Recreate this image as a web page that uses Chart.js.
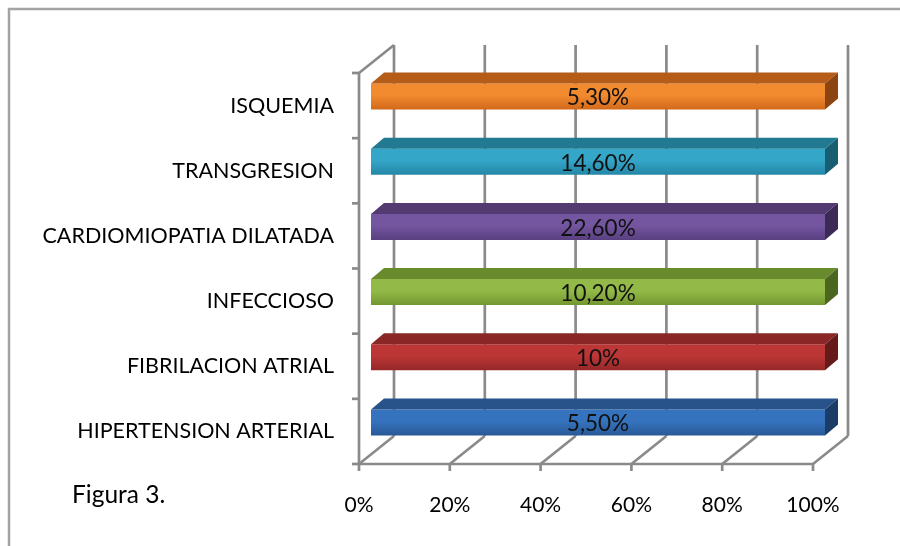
<!DOCTYPE html>
<html>
<head>
<meta charset="utf-8">
<script src="https://cdn.jsdelivr.net/npm/chart.js@4.4.1/dist/chart.umd.min.js"></script>
<style>
  html, body { margin: 0; padding: 0; background: #fff; }
  #wrap { width: 900px; height: 546px; position: relative; }
</style>
</head>
<body>
<div id="wrap"><canvas id="grafico" width="900" height="546"></canvas></div>
<script>
// Causas (de arriba hacia abajo) y su porcentaje
const causas = [
  'ISQUEMIA',
  'TRANSGRESION',
  'CARDIOMIOPATIA DILATADA',
  'INFECCIOSO',
  'FIBRILACION ATRIAL',
  'HIPERTENSION ARTERIAL'
];
const porcentajes = [5.3, 14.6, 22.6, 10.2, 10, 5.5];
const marcasX = [0, 20, 40, 60, 80, 100];
const pieFigura = 'Figura 3.';

// Colores por causa: frente (claro, oscuro), cara superior, cara lateral
const colores = [
  ['#F28A30', '#D2691A', '#B45C18', '#8E4410'],
  ['#34A6C8', '#2586A6', '#217A92', '#185E72'],
  ['#7455A0', '#594080', '#533B72', '#3C2A56'],
  ['#93BA48', '#72962F', '#6A8A2E', '#4C6620'],
  ['#BC3636', '#952727', '#8A2626', '#661B1B'],
  ['#3673BE', '#285996', '#27528A', '#1C3C68']
];

// Barras 100% apiladas: cada valor como parte del total de su categoría
const seriesApiladas = [porcentajes];
const totalesCategoria = causas.map((_, i) =>
  seriesApiladas.reduce((s, serie) => s + serie[i], 0));
const partes = porcentajes.map((v, i) => v / totalesCategoria[i] * 100);

// Formato con coma decimal: 10 -> "10%", 5.3 -> "5,30%"
const formatoPct = v => (Number.isInteger(v) ? String(v) : v.toFixed(2).replace('.', ',')) + '%';

const FUENTE = 'Lato, "Open Sans", sans-serif';
const GRIS = '#8a8a8a';
const FONDO = { dx: 35, dy: -28 };      // profundidad de paredes y suelo
const DESPLAZ = { dx: 12, dy: -9 };     // posición de las barras dentro de la profundidad
const PROF_BARRA = { dx: 13, dy: -11 }; // grosor 3D de cada barra
const GROSOR_BARRA = 0.4;

function linea(ctx, x1, y1, x2, y2) {
  ctx.beginPath(); ctx.moveTo(x1, y1); ctx.lineTo(x2, y2); ctx.stroke();
}
function poligono(ctx, pts, color) {
  ctx.beginPath();
  ctx.moveTo(pts[0][0], pts[0][1]);
  for (let k = 1; k < pts.length; k++) ctx.lineTo(pts[k][0], pts[k][1]);
  ctx.closePath();
  ctx.fillStyle = color;
  ctx.fill();
}

const efecto3D = {
  id: 'efecto3D',
  beforeDraw(chart) {
    const ctx = chart.ctx;
    ctx.save();
    ctx.strokeStyle = '#a3a3a3';
    ctx.lineWidth = 2.5;
    linea(ctx, 8, 9, 900, 9);
    linea(ctx, 9, 8, 9, 546);
    ctx.fillStyle = '#000';
    ctx.font = '24.5px ' + FUENTE;
    ctx.textAlign = 'left';
    ctx.textBaseline = 'middle';
    ctx.fillText(pieFigura, 72, 495);
    ctx.restore();
  },
  beforeDatasetsDraw(chart) {
    const { ctx, chartArea: a, scales: { x } } = chart;
    const xs = marcasX.map(v => x.getPixelForValue(v));
    const arribaFondo = a.top + FONDO.dy;
    const abajoFondo = a.bottom + FONDO.dy;
    ctx.save();
    ctx.strokeStyle = GRIS;
    ctx.lineWidth = 2.7;
    ctx.lineCap = 'butt';
    // pared del fondo y suelo
    xs.forEach(px => {
      linea(ctx, px + FONDO.dx, arribaFondo, px + FONDO.dx, abajoFondo);
      linea(ctx, px, a.bottom, px + FONDO.dx, abajoFondo);
      linea(ctx, px, a.bottom, px, a.bottom + 7);
    });
    // pared lateral
    linea(ctx, a.left, a.top, a.left, a.bottom);
    linea(ctx, a.left, a.top, a.left + FONDO.dx, arribaFondo);
    // borde frontal del suelo
    linea(ctx, a.left, a.bottom, a.right, a.bottom);
    // marcas del eje de categorías
    const n = causas.length;
    for (let i = 0; i <= n; i++) {
      const yb = a.top + i * a.height / n;
      linea(ctx, a.left - 7, yb, a.left, yb);
    }
    ctx.restore();
  },
  beforeDatasetDraw(chart) {
    chart.ctx.save();
    chart.ctx.translate(DESPLAZ.dx, DESPLAZ.dy);
  },
  afterDatasetDraw(chart, args) {
    const ctx = chart.ctx;
    args.meta.data.forEach((barra, i) => {
      const { x: x1, y: yc, base: x0, height: h } = barra.getProps(['x', 'y', 'base', 'height'], true);
      const yt = yc - h / 2, yb = yc + h / 2;
      const c = colores[i];
      poligono(ctx, [[x0, yt], [x1, yt], [x1 + PROF_BARRA.dx, yt + PROF_BARRA.dy], [x0 + PROF_BARRA.dx, yt + PROF_BARRA.dy]], c[2]);
      poligono(ctx, [[x1, yt], [x1 + PROF_BARRA.dx, yt + PROF_BARRA.dy], [x1 + PROF_BARRA.dx, yb + PROF_BARRA.dy], [x1, yb]], c[3]);
      ctx.fillStyle = '#111';
      ctx.font = '22.5px ' + FUENTE;
      ctx.textAlign = 'center';
      ctx.textBaseline = 'middle';
      ctx.fillText(formatoPct(porcentajes[i]), (x0 + x1) / 2, yc + 1.5);
    });
    ctx.restore();
  }
};

// Degradado vertical de la cara frontal de cada barra
function rellenoFrontal(c) {
  const col = colores[c.dataIndex] || colores[0];
  const y = c.chart.scales ? c.chart.scales.y : null;
  if (!y || c.dataIndex === undefined || !isFinite(y.height) || !y.height) return col[0];
  const yc = y.getPixelForValue(c.dataIndex);
  const h = (y.height / causas.length) * GROSOR_BARRA;
  if (!isFinite(yc)) return col[0];
  const g = c.chart.ctx.createLinearGradient(0, yc - h / 2, 0, yc + h / 2);
  g.addColorStop(0, col[0]);
  g.addColorStop(0.45, col[0]);
  g.addColorStop(1, col[1]);
  return g;
}

const lienzo = document.getElementById('grafico');
new Chart(lienzo, {
  type: 'bar',
  data: {
    labels: causas,
    datasets: [{
      data: partes,
      backgroundColor: rellenoFrontal,
      borderWidth: 0,
      barPercentage: GROSOR_BARRA,
      categoryPercentage: 1
    }]
  },
  options: {
    indexAxis: 'y',
    responsive: false,
    animation: false,
    layout: { padding: { top: 73, right: 87, left: 0, bottom: 0 } },
    plugins: { legend: { display: false }, tooltip: { enabled: false } },
    scales: {
      x: {
        min: 0, max: 100,
        afterBuildTicks: s => { s.ticks = marcasX.map(v => ({ value: v })); },
        ticks: {
          callback: v => v + '%',
          font: { family: FUENTE, size: 21 },
          color: '#000',
          padding: 21,
          maxRotation: 0,
          autoSkip: false
        },
        grid: { display: false },
        border: { display: false },
        afterFit: s => { s.height = 82; }
      },
      y: {
        ticks: {
          font: { family: FUENTE, size: 21.5 },
          color: '#000',
          padding: 17,
          autoSkip: false
        },
        grid: { display: false },
        border: { display: false },
        afterFit: s => { s.width = 359; }
      }
    }
  },
  plugins: [efecto3D]
});
</script>
</body>
</html>
